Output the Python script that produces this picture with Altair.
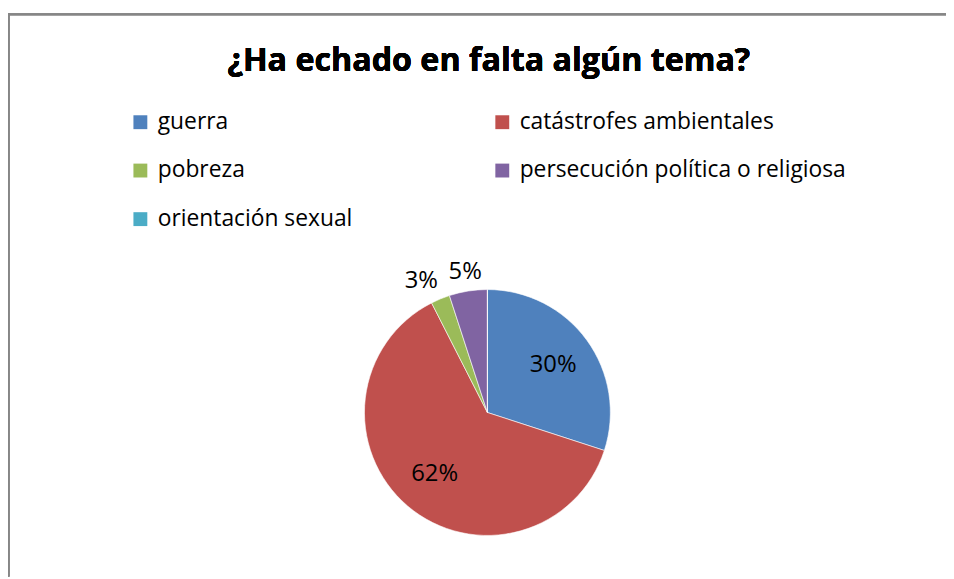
import altair as alt
import pandas as pd

temas = ["guerra", "catástrofes ambientales", "pobreza",
         "persecución política o religiosa", "orientación sexual"]
respuestas = [12, 25, 1, 2, 0]
etiquetas = ["30%", "62%", "3%", "5%", ""]
colores = ["#4F81BD", "#C0504D", "#9BBB59", "#8064A2", "#4BACC6"]
titulo = "¿Ha echado en falta algún tema?"

df = pd.DataFrame({"tema": temas, "n": respuestas, "etiqueta": etiquetas,
                   "orden": list(range(len(temas)))})

W, H = 946, 571
CX, CY, R = 483.5, 405.5, 124
FONT = "Open Sans"

color = alt.Color(
    "tema:N",
    scale=alt.Scale(domain=temas, range=colores),
    legend=alt.Legend(
        orient="none", legendX=122, legendY=101, columns=2, direction="horizontal",
        title=None, symbolType="square", symbolSize=196, symbolStrokeWidth=0,
        labelFontSize=23, labelFont=FONT, labelColor="#000000",
        labelOffset=6, rowPadding=25, columnPadding=139, padding=0,
        labelLimit=500,
    ),
)

base = alt.Chart(df).encode(
    theta=alt.Theta("n:Q", stack=True),
    order=alt.Order("orden:Q"),
    x=alt.value(CX), y=alt.value(CY),
)

pie = base.mark_arc(outerRadius=R, stroke="#ffffff", strokeWidth=0.6).encode(color=color)

frac = (base.transform_joinaggregate(total="sum(n)")
        .transform_calculate(frac="datum.n / datum.total"))

inner = frac.transform_calculate(
    lab="datum.frac >= 0.1 ? datum.etiqueta : ''"
).mark_text(radius=82, fontSize=24, font=FONT, color="#000000").encode(text="lab:N")

outer_a = frac.transform_calculate(
    lab="datum.frac >= 0.04 && datum.frac < 0.1 ? datum.etiqueta : ''"
).mark_text(radius=143, fontSize=24, font=FONT, color="#000000").encode(text="lab:N")

outer_b = frac.transform_calculate(
    lab="datum.frac < 0.04 ? datum.etiqueta : ''"
).mark_text(radius=143, dx=-12, fontSize=24, font=FONT, color="#000000").encode(text="lab:N")

frame_top = alt.Chart(df).mark_rule(color="#868686", strokeWidth=2).encode(
    x=alt.value(0), x2=alt.value(W), y=alt.value(4))
frame_left = alt.Chart(df).mark_rule(color="#868686", strokeWidth=2).encode(
    x=alt.value(0.5), y=alt.value(3), y2=alt.value(H))

title = alt.Chart(df).mark_text(
    text=titulo, fontSize=32.5, fontWeight="bold", font=FONT,
    color="#000000", align="center", baseline="alphabetic",
).encode(x=alt.value(485), y=alt.value(61))

chart = alt.layer(frame_top, frame_left, pie, inner, outer_a, outer_b, title).properties(
    width=W, height=H, autosize=alt.AutoSizeParams(type="none"), padding=0,
).configure_view(stroke=None)

chart.save("out.html", embed_options={"renderer": "svg", "actions": False})
